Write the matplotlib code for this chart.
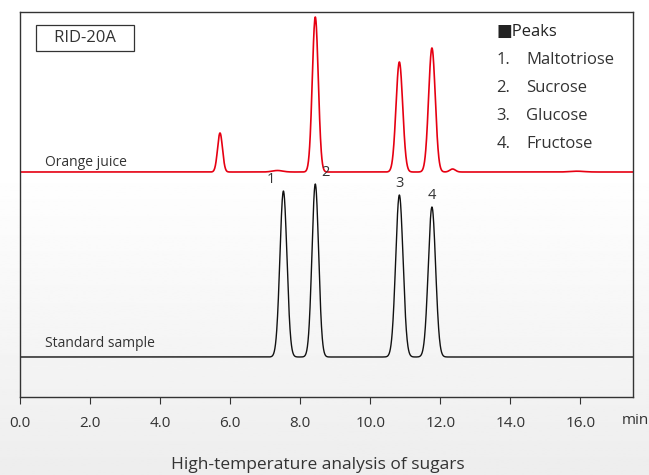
import numpy as np
import matplotlib
matplotlib.use("Agg")
import matplotlib.pyplot as plt

plt.rcParams['font.family'] = ['Open Sans', 'DejaVu Sans']

# retention time [min], peak height, peak width (sigma)
oj_rt = [5.71, 7.35, 8.43, 10.83, 11.76, 12.35, 15.9]
oj_h = [39, 1.5, 155, 110, 124, 3, 0.8]
oj_w = [0.07, 0.15, 0.085, 0.095, 0.095, 0.08, 0.2]

std_rt = [7.52, 8.43, 10.83, 11.76]
std_h = [166, 173, 162, 150]
std_w = [0.1, 0.095, 0.105, 0.105]
std_labels = ['1', '2', '3', '4']
label_dx = [-0.35, 0.28, 0.0, 0.0]

legend_items = ['Maltotriose', 'Sucrose', 'Glucose', 'Fructose']
xticks = [0, 2, 4, 6, 8, 10, 12, 14, 16]

oj_base, std_base = 225, 40


def trace(t, rts, hs, ws):
    y = np.zeros_like(t)
    for r, h, w in zip(rts, hs, ws):
        y += h * np.exp(-0.5 * ((t - r) / w) ** 2)
    return y


fig = plt.figure(figsize=(6.49, 4.75), dpi=100)

# light grey gradient behind everything
bg = fig.add_axes([0, 0, 1, 1], zorder=-1)
grad = np.linspace(0, 1, 256)[:, None]
grad = np.clip((grad - 0.35) / 0.65, 0, 1)
bg.imshow(1 - 0.07 * grad, cmap='gray', vmin=0, vmax=1, aspect='auto',
          extent=[0, 1, 0, 1], origin='upper')
bg.axis('off')

ax = fig.add_axes([20 / 649, 78 / 475, 613 / 649, 385 / 475])
ax.patch.set_alpha(0)
t = np.linspace(0, 17.5, 3000)
ax.plot(t, oj_base + trace(t, oj_rt, oj_h, oj_w), color='#e60012', lw=1.2)
ax.plot(t, std_base + trace(t, std_rt, std_h, std_w), color='#111111', lw=1.0)

for r, h, lab, dx in zip(std_rt, std_h, std_labels, label_dx):
    ax.text(r + dx, std_base + h + 4, lab, fontsize=10.5, color='#333333',
            ha='center', va='bottom')

ax.text(0.7, oj_base + 6, 'Orange juice', fontsize=10, color='#333333')
ax.text(0.7, std_base + 10, 'Standard sample', fontsize=10, color='#333333')
ax.text(1.86, 359, '   RID-20A   ', fontsize=12, color='#333333', ha='center',
        va='center', bbox=dict(boxstyle='square,pad=0.3', fc='white',
                               ec='#333333', lw=0.9))

ax.text(13.6, 365, '\u25a0Peaks', fontsize=12, color='#222222', va='center')
for i, name in enumerate(legend_items):
    yy = 365 - 28 * (i + 1)
    ax.text(13.6, yy, f'{i + 1}.', fontsize=12, color='#333333', va='center')
    ax.text(14.45, yy, name, fontsize=12, color='#333333', va='center')

ax.set_xlim(0, 17.5)
ax.set_ylim(0, 385)
ax.set_yticks([])
ax.set_xticks(xticks)
ax.set_xticklabels([f'{v:.1f}' for v in xticks], fontsize=11, color='#333333')
ax.tick_params(axis='x', direction='out', length=5, pad=9, color='#333333')
for s in ax.spines.values():
    s.set_color('#333333')
    s.set_linewidth(1.0)
ax.text(0.982, -0.06, 'min', transform=ax.transAxes, fontsize=11,
        color='#333333', ha='left', va='center')

fig.text(0.49, 0.005, 'High-temperature analysis of sugars', fontsize=12.5,
         color='#333333', ha='center', va='bottom')

fig.savefig('out.png', dpi=100)
